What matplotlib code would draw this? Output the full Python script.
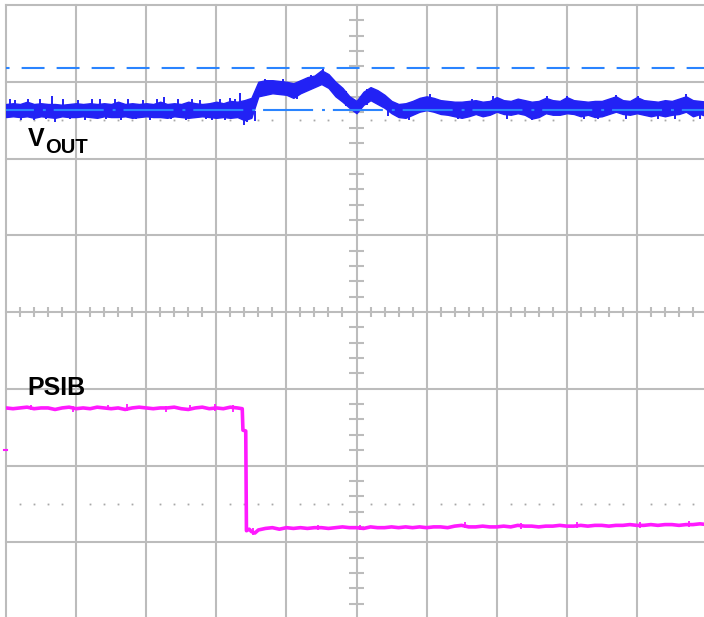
import matplotlib.pyplot as plt
import numpy as np

# Screen is 10 x 8 divisions; all values below are in divisions.
# VOUT trace: top and bottom of the noise band every 0.1 div.
vout_t = np.round(np.arange(0, 10.05, 0.1), 2)
vout_hi = [
    6.71, 6.72, 6.71, 6.74, 6.71, 6.72, 6.71, 6.71, 6.70, 6.71,
    6.72, 6.71, 6.72, 6.71, 6.72, 6.71, 6.74, 6.71, 6.72, 6.71,
    6.72, 6.71, 6.74, 6.71, 6.72, 6.71, 6.74, 6.72, 6.71, 6.72,
    6.74, 6.72, 6.75, 6.74, 6.76, 6.79, 7.00, 7.02, 7.02, 7.01,
    7.00, 6.98, 7.02, 7.06, 7.08, 7.15, 7.10, 7.00, 6.92, 6.81,
    6.75, 6.87, 6.93, 6.89, 6.83, 6.75, 6.71, 6.72, 6.75, 6.79,
    6.81, 6.79, 6.76, 6.75, 6.74, 6.74, 6.75, 6.76, 6.74, 6.75,
    6.80, 6.76, 6.75, 6.78, 6.76, 6.74, 6.75, 6.79, 6.76, 6.75,
    6.80, 6.76, 6.75, 6.74, 6.75, 6.75, 6.78, 6.81, 6.76, 6.75,
    6.80, 6.76, 6.75, 6.74, 6.76, 6.75, 6.78, 6.81, 6.76, 6.75,
    6.74,
]
vout_lo = [
    6.54, 6.55, 6.54, 6.55, 6.53, 6.55, 6.54, 6.53, 6.55, 6.54,
    6.54, 6.55, 6.54, 6.53, 6.55, 6.54, 6.54, 6.55, 6.53, 6.54,
    6.55, 6.54, 6.54, 6.53, 6.55, 6.54, 6.53, 6.54, 6.55, 6.54,
    6.53, 6.54, 6.53, 6.54, 6.50, 6.53, 6.81, 6.83, 6.85, 6.84,
    6.83, 6.79, 6.85, 6.89, 6.93, 6.97, 6.92, 6.81, 6.74, 6.66,
    6.59, 6.70, 6.76, 6.71, 6.66, 6.59, 6.54, 6.53, 6.57, 6.61,
    6.63, 6.61, 6.58, 6.57, 6.55, 6.53, 6.55, 6.58, 6.55, 6.57,
    6.61, 6.58, 6.57, 6.59, 6.57, 6.52, 6.54, 6.59, 6.57, 6.57,
    6.59, 6.58, 6.55, 6.57, 6.54, 6.55, 6.58, 6.61, 6.58, 6.57,
    6.59, 6.57, 6.55, 6.57, 6.55, 6.57, 6.58, 6.61, 6.55, 6.58,
    6.55,
]

# Single noise spikes sticking out of the VOUT band.
spike_t = [
    0.05, 0.13, 0.22, 0.31, 0.40, 0.48, 0.57, 0.66, 0.70, 0.82,
    0.91, 1.02, 1.12, 1.22, 1.34, 1.43, 1.55, 1.64, 1.74, 1.85,
    1.96, 2.05, 2.15, 2.25, 2.36, 2.46, 2.57, 2.66, 2.77, 2.86,
    2.94, 3.05, 3.13, 3.20, 3.27, 3.34, 3.40, 3.44, 3.55, 3.70,
    3.95, 4.15, 4.35, 4.52, 4.85, 5.15, 5.45, 5.75, 6.05, 6.45,
    6.65, 6.95, 7.15, 7.50, 7.72, 8.00, 8.25, 8.45, 8.70, 8.85,
    9.02, 9.30, 9.55, 9.70, 9.90,
]
spike_hi = [
    6.77, 6.76, 6.62, 6.78, 6.63, 6.77, 6.62, 6.81, 6.62, 6.77,
    6.62, 6.76, 6.62, 6.77, 6.78, 6.62, 6.77, 6.62, 6.77, 6.62,
    6.76, 6.62, 6.77, 6.80, 6.62, 6.77, 6.62, 6.77, 6.76, 6.62,
    6.62, 6.77, 6.62, 6.79, 6.78, 6.85, 6.62, 6.62, 6.62, 7.04,
    7.03, 6.97, 7.09, 7.17, 6.88, 6.90, 6.79, 6.62, 6.84, 6.62,
    6.78, 6.82, 6.62, 6.62, 6.81, 6.82, 6.62, 6.62, 6.83, 6.62,
    6.81, 6.62, 6.62, 6.84, 6.62,
]
spike_lo = [
    6.60, 6.62, 6.50, 6.63, 6.50, 6.62, 6.51, 6.62, 6.48, 6.62,
    6.51, 6.62, 6.50, 6.62, 6.62, 6.51, 6.62, 6.50, 6.62, 6.51,
    6.62, 6.50, 6.62, 6.62, 6.51, 6.62, 6.50, 6.62, 6.62, 6.51,
    6.50, 6.62, 6.50, 6.62, 6.62, 6.62, 6.44, 6.48, 6.49, 6.88,
    6.86, 6.77, 6.92, 7.00, 6.68, 6.70, 6.56, 6.50, 6.70, 6.51,
    6.62, 6.66, 6.52, 6.50, 6.66, 6.66, 6.52, 6.51, 6.66, 6.52,
    6.66, 6.52, 6.51, 6.66, 6.52,
]

# PSIB trace: high level, falling edge near 3.4 div, then low level.
psib_t = list(np.round(np.arange(0, 3.35, 0.1), 2)) + [
    3.37, 3.38, 3.42, 3.43, 3.47, 3.50, 3.55, 3.60,
] + list(np.round(np.arange(3.7, 10.05, 0.1), 2))
psib_v = [
    2.75, 2.74, 2.75, 2.76, 2.74, 2.75, 2.75, 2.73, 2.75, 2.76,
    2.74, 2.75, 2.74, 2.76, 2.75, 2.74, 2.75, 2.73, 2.75, 2.76,
    2.75, 2.74, 2.75, 2.75, 2.76, 2.74, 2.73, 2.75, 2.76, 2.74,
    2.75, 2.74, 2.76, 2.75,
    2.74, 2.46, 2.45, 1.15, 1.17, 1.14, 1.12, 1.16,
    1.18, 1.19, 1.17, 1.19, 1.18, 1.19, 1.18, 1.19, 1.19, 1.18,
    1.19, 1.20, 1.19, 1.19, 1.18, 1.20, 1.19, 1.19, 1.20, 1.19,
    1.20, 1.19, 1.20, 1.19, 1.20, 1.20, 1.19, 1.21, 1.22, 1.20,
    1.20, 1.21, 1.20, 1.20, 1.21, 1.20, 1.22, 1.21, 1.21, 1.20,
    1.21, 1.21, 1.22, 1.21, 1.21, 1.22, 1.21, 1.22, 1.22, 1.21,
    1.22, 1.22, 1.23, 1.22, 1.22, 1.23, 1.22, 1.23, 1.23, 1.22,
    1.23, 1.23, 1.24, 1.23,
]

# Small glitches on the PSIB trace.
psib_spike_t = [0.35, 0.95, 1.45, 1.72, 2.28, 2.62, 2.98, 3.24, 3.52,
                4.45, 5.05, 6.55, 7.35, 8.15, 9.05, 9.75]
psib_spike_hi = [2.79, 2.78, 2.79, 2.80, 2.78, 2.79, 2.80, 2.79, 1.18,
                 1.23, 1.23, 1.26, 1.25, 1.26, 1.27, 1.28]
psib_spike_lo = [2.72, 2.70, 2.72, 2.71, 2.70, 2.72, 2.71, 2.70, 1.10,
                 1.16, 1.16, 1.18, 1.17, 1.18, 1.19, 1.20]

# Cursor levels and the channel 2 ground marker.
cursor_top = 7.18
cursor_ref = 6.63
psib_marker = 2.20

grid_color = "#bcbcbc"
blue = "#2222f5"
cursor_blue = "#2a84ff"
magenta = "#ff1aff"

fig = plt.figure(figsize=(7.04, 6.17), dpi=100)
ax = fig.add_axes([6 / 704, -2 / 617, 701 / 704, 614 / 617])
ax.set_xlim(0, 10)
ax.set_ylim(0, 8)
ax.axis("off")

# Division grid.
for x in range(11):
    ax.axvline(x, color=grid_color, lw=1.5, zorder=0, clip_on=False)
for y in range(9):
    ax.axhline(y, color=grid_color, lw=1.5, zorder=0, clip_on=False)

# Sub-division ticks along the centre cross.
sub_x = [i / 5 for i in range(1, 50) if i % 5]
sub_y = [i / 5 for i in range(1, 40) if i % 5]
ax.vlines(sub_x, 4 - 0.06, 4 + 0.06, color=grid_color, lw=1.5, zorder=0)
ax.hlines(sub_y, 5 - 0.11, 5 + 0.11, color=grid_color, lw=1.5, zorder=0)

# Dotted reference rows.
for level in (6.5, 1.5):
    ax.plot(sub_x, [level] * len(sub_x), ls="none", marker="s", ms=1.3,
            mec="none", color="#a8a8a8", zorder=0)

# VOUT noise band and spikes.
ax.fill_between(vout_t, vout_lo, vout_hi, color=blue, lw=1.0, ec=blue,
                zorder=2)
ax.vlines(spike_t, spike_lo, spike_hi, color=blue, lw=1.4, zorder=2)

# Cursor lines drawn over the trace.
ax.axhline(cursor_top, color=cursor_blue, lw=1.5, ls=(9.3, (11, 5.8)), zorder=3)
ax.axhline(cursor_ref, color=cursor_blue, lw=1.5,
           ls=(10.6, (24, 4.3, 1.4, 3.8)), zorder=3)

# PSIB trace.
ax.plot(psib_t, psib_v, color=magenta, lw=2.6, zorder=2)
ax.vlines(psib_spike_t, psib_spike_lo, psib_spike_hi, color=magenta, lw=1.3,
          zorder=2)
ax.plot([-0.03, 0.01], [psib_marker, psib_marker], color=magenta, lw=1.5,
        clip_on=False)

# Channel labels.
label_font = dict(family="Liberation Sans", weight="bold", color="black")
ax.text(0.31, 6.16, "V", fontsize=18, va="baseline", **label_font)
ax.text(0.56, 6.07, "OUT", fontsize=14.5, va="baseline", **label_font)
ax.text(0.31, 2.92, "PSIB", fontsize=18, va="baseline", **label_font)

fig.savefig("out.png", dpi=100)
